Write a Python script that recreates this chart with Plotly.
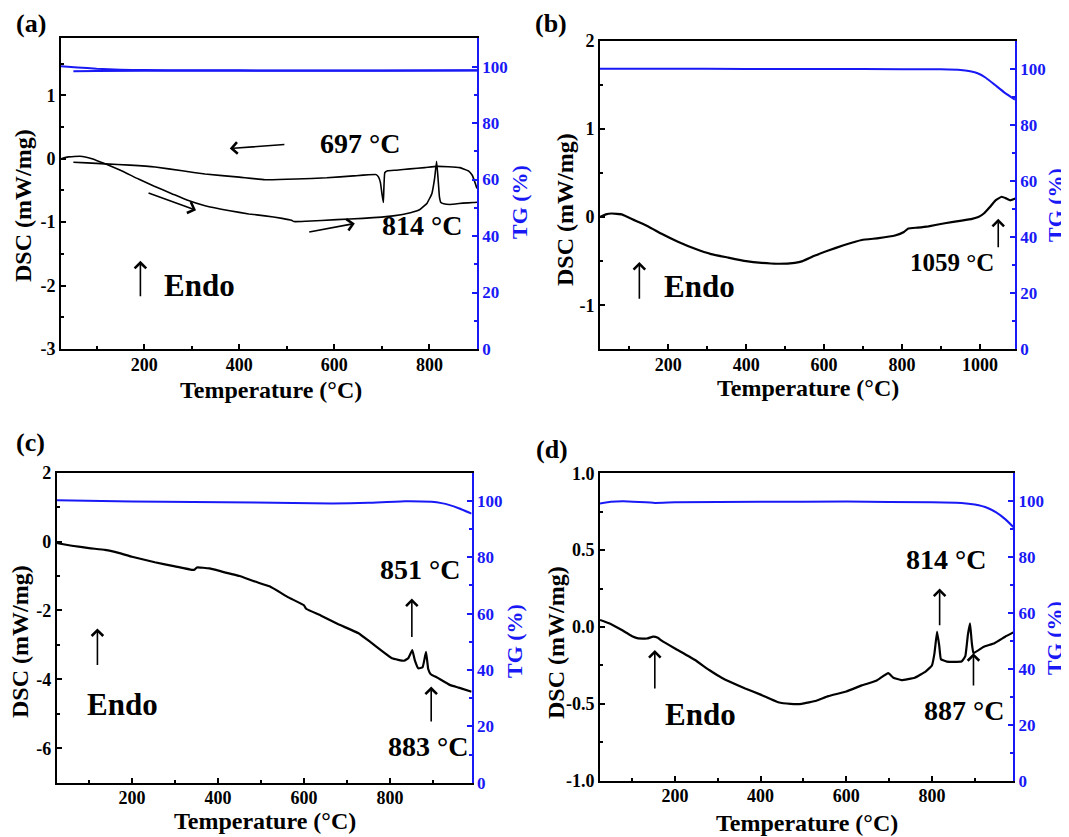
import plotly.graph_objects as go

# ---------------- data ----------------
# (a) heating run
a_heat_T = [25, 40, 65, 90, 118, 150, 188, 220, 258, 290, 328, 380, 420, 454, 490, 510, 515, 540,
            605, 660, 724, 760, 780, 795, 805, 811, 815, 818, 821, 824, 830, 843, 870, 892, 900]
a_heat_dsc = [0.0, 0.03, 0.04, 0.0, -0.08, -0.18, -0.32, -0.43, -0.55, -0.65, -0.74, -0.82, -0.87, -0.9,
              -0.94, -0.97, -0.99, -0.985, -0.96, -0.94, -0.9, -0.85, -0.8, -0.7, -0.55, -0.3, -0.04,
              -0.3, -0.6, -0.69, -0.71, -0.72, -0.7, -0.69, -0.685]
# (a) cooling run
a_cool_T = [900, 896, 890, 882, 864, 840, 815, 790, 759, 730, 712, 706, 703, 700, 697, 693, 688,
            640, 584, 520, 454, 400, 328, 280, 223, 170, 118, 80, 51]
a_cool_dsc = [-0.47, -0.38, -0.26, -0.19, -0.14, -0.125, -0.12, -0.14, -0.16, -0.18, -0.19, -0.22,
              -0.69, -0.55, -0.38, -0.29, -0.25, -0.27, -0.30, -0.32, -0.33, -0.29, -0.24, -0.19,
              -0.13, -0.10, -0.08, -0.065, -0.054]
a_tg_heat_T = [25, 60, 100, 150, 200, 300, 500, 700, 900]
a_tg_heat = [100.1, 99.7, 99.2, 98.9, 98.75, 98.7, 98.6, 98.6, 98.65]
a_tg_cool_T = [900, 700, 500, 300, 100, 51]
a_tg_cool = [98.6, 98.55, 98.55, 98.55, 98.45, 98.3]

# (b)
b_T = [25, 40, 55, 81, 115, 150, 183, 225, 269, 310, 354, 400, 440, 480, 525, 545, 575, 611, 650,
       697, 740, 782, 805, 816, 840, 868, 910, 953, 980, 996, 1010, 1025, 1040, 1056, 1068, 1078, 1091]
b_dsc = [0.0, 0.03, 0.04, 0.03, -0.04, -0.11, -0.19, -0.28, -0.36, -0.42, -0.46, -0.5, -0.52, -0.53,
         -0.52, -0.5, -0.44, -0.38, -0.32, -0.26, -0.24, -0.21, -0.17, -0.13, -0.12, -0.105, -0.07,
         -0.04, -0.02, 0.0, 0.04, 0.11, 0.19, 0.23, 0.21, 0.19, 0.21]
b_tg_T = [25, 200, 400, 600, 800, 900, 950, 975, 994, 1015, 1038, 1065, 1090]
b_tg = [100.0, 100.0, 99.95, 99.9, 99.85, 99.8, 99.6, 99.1, 98.4, 96.8, 94.3, 91.3, 89.0]

# (c)
c_T = [25, 28, 60, 100, 137, 160, 200, 253, 300, 339, 345, 351, 380, 409, 450, 486, 520, 564, 600,
       605, 640, 680, 727, 758, 805, 833, 843, 852, 858, 866, 876, 884, 889, 895, 910, 939, 960, 990]
c_dsc = [-0.02, -0.05, -0.12, -0.19, -0.24, -0.3, -0.44, -0.6, -0.72, -0.82, -0.82, -0.75, -0.78,
         -0.87, -1.0, -1.16, -1.3, -1.62, -1.85, -1.95, -2.15, -2.4, -2.66, -2.95, -3.39, -3.46,
         -3.38, -3.15, -3.45, -3.68, -3.65, -3.2, -3.7, -3.85, -3.95, -4.16, -4.24, -4.36]
c_tg_T = [25, 200, 486, 665, 750, 835, 897, 920, 939, 960, 990]
c_tg = [100.2, 99.8, 99.4, 99.05, 99.3, 99.9, 99.65, 99.2, 98.5, 97.4, 95.5]

# (d)
d_T = [25, 50, 76, 100, 114, 135, 149, 160, 169, 200, 247, 280, 309, 364, 400, 441, 470, 496, 530,
       558, 600, 636, 670, 698, 710, 729, 760, 785, 800, 806, 812, 817, 821, 835, 869, 878, 884,
       889, 893, 897, 920, 946, 971, 990]
d_dsc = [0.046, 0.02, -0.02, -0.06, -0.074, -0.075, -0.063, -0.07, -0.089, -0.14, -0.215, -0.28,
         -0.33, -0.40, -0.44, -0.49, -0.5, -0.5, -0.48, -0.45, -0.42, -0.38, -0.35, -0.30, -0.33,
         -0.345, -0.33, -0.29, -0.25, -0.17, -0.03, -0.12, -0.21, -0.225, -0.225, -0.19, -0.05,
         0.024, -0.1, -0.17, -0.13, -0.105, -0.063, -0.035]
d_tg_T = [25, 50, 80, 153, 200, 400, 600, 800, 869, 900, 930, 950, 971, 990]
d_tg = [99.2, 99.8, 100.0, 99.4, 99.6, 99.8, 99.9, 99.6, 99.4, 98.8, 97.6, 96.0, 93.6, 90.8]

# tick labels
x_ticks = [200, 400, 600, 800]
x_ticks_b = [200, 400, 600, 800, 1000]
tg_ticks = [0, 20, 40, 60, 80, 100]
a_yticks = [-3, -2, -1, 0, 1]
b_yticks = [-1, 0, 1, 2]
c_yticks = [-6, -4, -2, 0, 2]
d_yticks = [-1.0, -0.5, 0.0, 0.5, 1.0]
d_ytext = ["-1.0", "-0.5", "0.0", "0.5", "1.0"]

x_title = "Temperature (°C)"
y_title = "DSC (mW/mg)"
y2_title = "TG (%)"

# ---------------- styling / layout ----------------
FONT = "Liberation Serif"
BLUE = "rgb(25,25,245)"
W, H = 1069, 837
OFF = 8  # page body margin of the html page


def dom(l, r, t, b):
    return [(l - OFF) / W, (r - OFF) / W], [1 - (b - OFF) / H, 1 - (t - OFF) / H]


panels = [
    dict(box=dom(61, 477, 38.3, 349), xr=[25, 900], yr=[-3, 1.9], xt=x_ticks,
         yt=a_yticks, ytt=[str(v) for v in a_yticks], ydt=0.5, label="(a)", lp=(31, 24),
         tx=(271, 390), ty=(23, 206), tr=(519, 202)),
    dict(box=dom(600, 1015, 40.7, 349.3), xr=[25, 1090], yr=[-1.5, 2], xt=x_ticks_b,
         yt=b_yticks, ytt=[str(v) for v in b_yticks], ydt=0.5, label="(b)", lp=(551, 24),
         tx=(808, 388), ty=(565, 210), tr=(1056, 205)),
    dict(box=dom(56.8, 471.6, 472.7, 782.7), xr=[25, 990], yr=[-7, 2], xt=x_ticks,
         yt=c_yticks, ytt=[str(v) for v in c_yticks], ydt=1, label="(c)", lp=(30, 442),
         tx=(265, 821), ty=(20, 642), tr=(514, 641)),
    dict(box=dom(600, 1013.3, 473.3, 780.7), xr=[25, 990], yr=[-1, 1], xt=x_ticks,
         yt=d_yticks, ytt=d_ytext, ydt=0.25, label="(d)", lp=(552, 449),
         tx=(807, 823), ty=(556, 643), tr=(1054, 638)),
]

fig = go.Figure()
layout = dict(width=W, height=H, margin=dict(l=0, r=0, t=0, b=0, autoexpand=False),
              showlegend=False, plot_bgcolor="white", paper_bgcolor="white",
              font=dict(family=FONT, color="black"))
annotations = []


def ax_names(i):
    xa = "x" if i == 1 else f"x{i}"
    yl = "y" if i == 1 else f"y{2 * i - 1}"
    yr = f"y{2 * i}"
    return xa, yl, yr


def ptxt(text, pos, size, color="black", angle=0):
    return dict(text=text, xref="paper", yref="paper", x=(pos[0] - OFF) / W,
                y=1 - (pos[1] - OFF) / H,
                xanchor="center", yanchor="middle", showarrow=False, textangle=angle,
                font=dict(family=FONT, size=size, weight="bold", color=color))


series = [
    [(a_heat_T, a_heat_dsc, "l", 1.6), (a_cool_T, a_cool_dsc, "l", 1.6),
     (a_tg_heat_T, a_tg_heat, "r", 2), (a_tg_cool_T, a_tg_cool, "r", 2)],
    [(b_T, b_dsc, "l", 2.2), (b_tg_T, b_tg, "r", 2)],
    [(c_T, c_dsc, "l", 2.2), (c_tg_T, c_tg, "r", 2)],
    [(d_T, d_dsc, "l", 2.2), (d_tg_T, d_tg, "r", 2)],
]

for i, (p, ss) in enumerate(zip(panels, series), start=1):
    xa, yl, yr = ax_names(i)
    for xs, ys, side, lw in ss:
        fig.add_trace(go.Scatter(x=xs, y=ys, mode="lines", xaxis=xa,
                                 yaxis=yl if side == "l" else yr,
                                 line=dict(color="black" if side == "l" else BLUE, width=lw,
                                           shape="spline", smoothing=0.3),
                                 hoverinfo="skip"))
    xd, yd = p["box"]
    kx = "xaxis" if i == 1 else f"xaxis{i}"
    kyl = "yaxis" if i == 1 else f"yaxis{2 * i - 1}"
    kyr = f"yaxis{2 * i}"
    layout[kx] = dict(domain=xd, anchor=yl, range=p["xr"], tickmode="array", tickvals=p["xt"],
                      ticks="inside", ticklen=5, tickwidth=1.5, tickcolor="black",
                      showline=True, linecolor="black", linewidth=1.8, mirror=True,
                      showgrid=False, zeroline=False, automargin=False,
                      ticklabelstandoff=-2,
                      minor=dict(tickmode="linear", tick0=0, dtick=100, ticks="inside",
                                 ticklen=3, tickwidth=1.5, tickcolor="black"),
                      tickfont=dict(family=FONT, size=18, weight="bold", color="black"))
    layout[kyl] = dict(domain=yd, anchor=xa, range=p["yr"], tickmode="array", tickvals=p["yt"],
                       ticktext=p["ytt"], ticks="inside", ticklen=5, tickwidth=1.5,
                       tickcolor="black", showline=True, linecolor="black", linewidth=1.8,
                       mirror=False, showgrid=False, zeroline=False, automargin=False,
                       minor=dict(tickmode="linear", tick0=0, dtick=p["ydt"], ticks="inside",
                                  ticklen=3, tickwidth=1.5, tickcolor="black"),
                       tickfont=dict(family=FONT, size=18, weight="bold", color="black"))
    layout[kyr] = dict(domain=yd, anchor=xa, overlaying=yl, side="right", range=[0, 110],
                       tickmode="array", tickvals=tg_ticks, ticks="inside", ticklen=5,
                       tickwidth=1.5, tickcolor=BLUE, showline=True, linecolor=BLUE,
                       linewidth=1.8, showgrid=False, zeroline=False, automargin=False,
                       minor=dict(tickmode="linear", tick0=0, dtick=10, ticks="inside",
                                  ticklen=3, tickwidth=1.5, tickcolor=BLUE),
                       tickfont=dict(family=FONT, size=17, weight="bold", color=BLUE))
    annotations.append(ptxt(p["label"], p["lp"], 26))
    annotations.append(ptxt(x_title, p["tx"], 24))
    annotations.append(ptxt(y_title, p["ty"], 24, angle=-90))
    annotations.append(ptxt(y2_title, p["tr"], 22, color=BLUE, angle=-90))

# annotation positions (data coordinates of each panel): arrows (head, tail) and texts
arrows = {
    1: [((380, 0.163), (498, 0.226)), ((309, -0.81), (206, -0.53)),
        ((643, -1.02), (544, -1.16)), ((192, -1.61), (192, -2.19))],
    2: [((126, -0.51), (126, -0.945)), ((1047, -0.02), (1047, -0.36))],
    3: [((119.5, -2.52), (119.5, -3.63)), ((851, -1.65), (851, -2.81)),
        ((896, -4.21), (896, -5.27))],
    4: [((153, -0.15), (153, -0.41)), ((818, 0.25), (818, 0.002)),
        ((897, -0.17), (897, -0.39))],
}
texts = {
    1: [("697 °C", 654, 0.24, 28), ("814 °C", 785, -1.05, 28), ("Endo", 317, -2.0, 31)],
    2: [("Endo", 281, -0.79, 31), ("1059 °C", 928, -0.52, 25)],
    3: [("Endo", 178, -4.72, 31), ("851 °C", 871, -0.82, 28), ("883 °C", 888, -5.95, 28)],
    4: [("Endo", 260, -0.57, 31), ("814 °C", 833, 0.436, 28), ("887 °C", 876, -0.54, 28)],
}
for i in range(1, 5):
    xa, yl, _ = ax_names(i)
    for (hx, hy), (tx, ty) in arrows[i]:
        annotations.append(dict(x=hx, y=hy, ax=tx, ay=ty, xref=xa, yref=yl, axref=xa, ayref=yl,
                                text="", showarrow=True, arrowhead=4, arrowsize=1.4,
                                arrowwidth=1.6, arrowcolor="black"))
    for s, x, y, size in texts[i]:
        annotations.append(dict(text=s, x=x, y=y, xref=xa, yref=yl, showarrow=False,
                                font=dict(family=FONT, size=size, weight="bold", color="black")))

layout["annotations"] = annotations
fig.update_layout(**layout)
fig.write_html("out.html")
